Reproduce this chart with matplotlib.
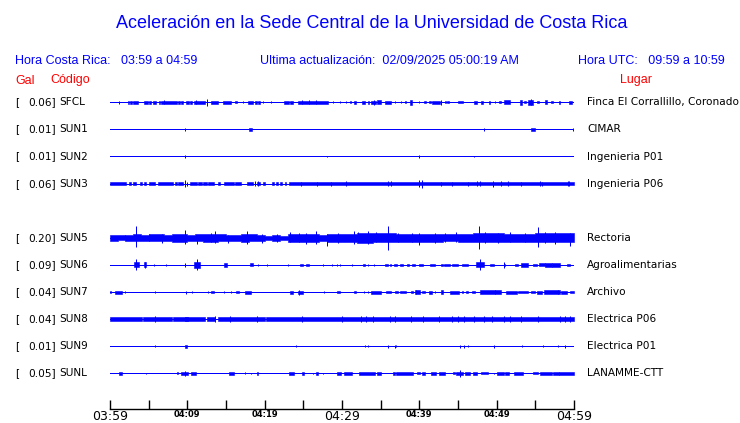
import matplotlib
matplotlib.use("Agg")
import matplotlib.pyplot as plt
from matplotlib.transforms import blended_transform_factory


W, H = 740, 423
BLUE = "#0000ff"
RED = "#ff0000"
LW = 0.72  # one pixel at 100 dpi

# station order top -> bottom (None = empty slot, SUN4 not shown)
ROW_ORDER = ["SFCL", "SUN1", "SUN2", "SUN3", None, "SUN5", "SUN6", "SUN7", "SUN8", "SUN9", "SUNL"]

PEAK_GAL = {
	"SFCL": "0.06", "SUN1": "0.01", "SUN2": "0.01", "SUN3": "0.06", "SUN5": "0.20",
	"SUN6": "0.09", "SUN7": "0.04", "SUN8": "0.04", "SUN9": "0.01", "SUNL": "0.05",
}
PLACES = {
	"SFCL": "Finca El Corrallillo, Coronado", "SUN1": "CIMAR", "SUN2": "Ingenieria P01",
	"SUN3": "Ingenieria P06", "SUN5": "Rectoria", "SUN6": "Agroalimentarias",
	"SUN7": "Archivo", "SUN8": "Electrica P06", "SUN9": "Electrica P01", "SUNL": "LANAMME-CTT",
}

TICK_MIN = [0, 5, 10, 15, 20, 25, 30, 35, 40, 45, 50, 55, 60]
TICK_LABELS = ["03:59", "", "04:09", "", "04:19", "", "04:29", "", "04:39", "", "04:49", "", "04:59"]
BIG_TICKS = ["03:59", "04:29", "04:59"]

# bursts: (start_min, end_min, half amplitude); start == end -> single spike
SFCL_EVENTS = [
	(1.2, 1.2, 1.3), (2.3, 2.5, 1.3), (2.6, 2.8, 1.5), (3.0, 3.6, 1.5), (4.4, 4.9, 1.5), (5.1, 5.3, 1.3),
	(5.6, 5.9, 1.3), (6.3, 6.5, 1.3), (6.6, 8.6, 1.5), (7.0, 7.0, 2.2), (8.8, 9.0, 1.3), (9.2, 9.4, 1.3),
	(9.8, 10.2, 1.5), (10.4, 10.6, 1.3), (10.8, 12.3, 1.5), (11.1, 11.1, 2.2), (12.6, 12.6, 3.5),
	(13.1, 14.0, 1.5), (14.6, 15.7, 1.5), (16.1, 16.4, 1.0), (17.2, 17.2, 1.0), (17.8, 18.5, 1.5),
	(18.7, 19.0, 1.3), (19.2, 19.4, 1.3), (19.8, 19.8, 1.0), (20.8, 20.8, 1.0), (22.5, 23.1, 1.5),
	(23.3, 23.7, 1.5), (24.3, 28.2, 1.5), (24.8, 24.8, 2.2), (25.7, 25.7, 2.2), (26.6, 26.6, 2.2),
	(28.8, 28.8, 1.0), (29.8, 29.8, 1.0), (30.5, 30.5, 1.0), (31.0, 31.2, 1.2), (31.5, 31.8, 1.3),
	(32.6, 33.0, 1.3), (33.3, 33.5, 1.3), (33.8, 34.4, 1.5), (34.1, 34.1, 2.5), (34.5, 35.0, 2.0),
	(35.6, 36.3, 1.5), (36.8, 36.8, 1.0), (37.6, 37.6, 1.0), (38.1, 38.3, 1.0), (38.8, 39.1, 2.3),
	(39.9, 39.9, 1.0), (40.6, 40.8, 1.0), (41.2, 41.5, 1.2), (41.7, 42.7, 1.5), (42.8, 42.8, 2.5),
	(43.3, 43.5, 1.0), (43.6, 43.9, 1.0), (45.0, 45.6, 0.8), (47.1, 47.5, 1.5), (48.0, 48.2, 1.3),
	(49.0, 49.2, 1.3), (49.8, 49.8, 1.0), (50.3, 50.6, 1.0), (51.0, 51.7, 2.0), (53.0, 53.3, 2.3),
	(53.5, 53.8, 1.0), (54.0, 54.7, 2.3), (54.5, 54.5, 3.0), (55.2, 55.5, 1.0), (56.3, 56.5, 2.0),
	(57.0, 57.3, 1.0), (58.0, 58.2, 1.3), (59.4, 59.8, 1.5),
]
SUN1_EVENTS = [(9.7, 9.7, 1.3), (18.0, 18.3, 1.5), (48.3, 48.3, 1.3), (54.4, 54.9, 1.5), (59.9, 59.9, 1.3)]
SUN2_EVENTS = [(9.7, 9.7, 1.3), (28.0, 28.0, 0.8), (40.0, 40.0, 1.3), (47.1, 47.1, 0.8)]
SUN3_EVENTS = [
	(0.0, 2.1, 1.5), (2.4, 2.7, 1.5), (3.0, 3.4, 1.5), (3.9, 4.2, 1.5), (4.4, 4.7, 1.5), (5.1, 5.8, 1.5),
	(6.2, 8.2, 1.5), (8.4, 8.6, 1.5), (8.8, 9.5, 1.5), (10.3, 11.2, 1.5), (11.4, 11.9, 1.5), (12.0, 12.5, 1.5),
	(12.7, 13.5, 1.5), (14.0, 14.2, 1.5), (14.7, 16.0, 1.5), (16.2, 17.0, 1.5), (17.7, 18.5, 1.5),
	(19.0, 19.4, 1.5), (19.8, 20.0, 1.5), (21.0, 21.2, 1.5), (21.5, 21.7, 1.5), (22.0, 22.3, 1.5),
	(22.6, 22.8, 1.5), (23.2, 60.0, 1.5),
	(9.7, 9.7, 3.3), (10.0, 10.0, 2.0), (18.7, 18.7, 2.7), (19.1, 19.1, 2.2), (24.7, 24.7, 2.0),
	(26.8, 26.8, 2.0), (28.6, 28.6, 2.0), (30.5, 30.5, 2.5), (36.0, 36.0, 2.2), (36.3, 36.3, 2.2),
	(40.0, 40.0, 3.5), (40.4, 40.4, 4.0), (42.8, 42.8, 2.0), (44.2, 44.2, 2.0), (46.3, 46.3, 2.0),
	(47.5, 47.5, 2.2), (47.9, 47.9, 2.7), (49.5, 49.5, 3.0), (50.6, 50.6, 2.2), (51.5, 51.5, 2.2),
	(53.2, 53.2, 2.0), (55.6, 55.6, 2.2), (55.8, 55.8, 2.0), (59.2, 59.2, 2.7), (59.4, 59.4, 2.5),
]
# SUN5 is continuous: one core half amplitude per minute plus the larger excursions (t, up, down)
SUN5_CORE = [
	3.0, 2.5, 2.8, 3.5, 2.8, 3.5, 3.5, 3.0, 3.8, 4.0, 3.3, 3.5, 3.8, 4.0, 3.5, 3.0, 2.7, 4.0, 3.5, 3.3,
	2.3, 3.3, 2.0, 4.0, 4.0, 4.0, 4.0, 3.3, 3.8, 4.0, 4.0, 4.3, 4.8, 4.8, 4.5, 4.5, 4.5, 4.2, 4.2, 4.2,
	4.2, 4.2, 3.8, 3.5, 3.5, 4.2, 4.2, 4.5, 4.5, 4.5, 4.5, 4.2, 3.8, 3.8, 4.2, 4.5, 4.5, 4.5, 4.5, 4.5,
]
SUN5_SPIKES = [
	(1.9, 3.3, 2.5), (3.3, 12.0, 9.0), (5.0, 4.0, 3.0), (6.7, 4.0, 5.0), (9.7, 8.0, 6.0), (11.2, 3.0, 6.0),
	(13.1, 5.0, 4.0), (13.6, 6.7, 5.0), (15.3, 3.0, 5.0), (17.7, 6.7, 6.0), (19.6, 4.0, 5.0),
	(21.6, 4.0, 4.0), (23.3, 5.7, 4.0), (24.4, 5.0, 4.0), (25.4, 5.0, 6.0), (26.6, 6.7, 6.0),
	(28.0, 4.0, 8.3), (29.5, 5.0, 5.0), (31.5, 6.7, 5.7), (32.1, 5.7, 4.5), (33.4, 6.7, 5.7),
	(34.4, 5.7, 4.5), (36.0, 12.3, 11.7), (37.3, 5.0, 4.5), (39.0, 5.0, 4.5), (39.9, 4.5, 7.3),
	(42.0, 5.0, 5.0), (43.3, 5.0, 4.0), (44.8, 5.7, 4.5), (47.7, 11.7, 11.0), (48.5, 6.0, 5.0),
	(50.2, 5.0, 5.0), (51.7, 5.7, 4.5), (53.7, 5.0, 4.5), (55.3, 11.0, 9.3), (56.3, 5.7, 5.0),
	(57.5, 6.0, 6.0), (59.5, 5.0, 8.3),
]
SUN6_EVENTS = [
	(3.1, 3.7, 2.5), (3.4, 3.4, 5.5), (4.4, 4.6, 2.5), (4.5, 4.5, 3.0), (5.7, 5.7, 0.8), (7.2, 7.2, 0.8),
	(9.7, 9.7, 2.0), (10.9, 11.6, 3.0), (11.25, 11.25, 5.5), (14.7, 15.1, 1.7), (18.1, 18.5, 1.5),
	(19.1, 19.1, 1.0), (20.3, 20.3, 1.3), (23.0, 23.0, 1.3), (24.6, 24.9, 1.3), (25.3, 25.7, 1.0),
	(27.6, 27.6, 0.8), (28.7, 28.7, 1.3), (29.3, 29.3, 0.8), (29.8, 29.8, 0.8), (31.3, 31.3, 1.3),
	(32.7, 33.0, 1.3), (33.4, 33.4, 1.0), (34.2, 34.2, 1.0), (35.6, 35.9, 1.0), (36.2, 36.4, 1.3),
	(36.7, 37.1, 1.3), (37.5, 37.9, 1.3), (38.4, 38.7, 1.0), (39.0, 39.4, 1.3), (39.9, 40.5, 1.3),
	(41.4, 42.0, 1.0), (42.8, 43.0, 1.3), (43.2, 44.0, 1.3), (44.2, 45.0, 1.3), (45.5, 46.3, 1.3),
	(47.3, 48.3, 2.5), (47.8, 47.8, 5.5), (49.1, 49.7, 1.3), (50.9, 51.1, 1.3), (51.0, 51.0, 3.0),
	(52.4, 52.8, 1.3), (53.2, 54.1, 1.7), (54.7, 55.2, 1.0), (55.5, 56.2, 1.5), (56.3, 57.1, 1.7),
	(57.2, 58.2, 2.0), (59.1, 59.5, 1.0),
]
SUN7_EVENTS = [
	(0.0, 0.1, 1.3), (0.6, 1.5, 1.5), (2.0, 2.0, 0.8), (5.8, 5.8, 1.3), (9.8, 9.8, 1.5), (10.6, 10.6, 1.3),
	(12.7, 12.7, 1.0), (13.1, 13.5, 0.8), (14.8, 14.8, 0.7), (15.7, 15.7, 1.3), (16.3, 16.7, 1.3),
	(17.5, 18.2, 1.5), (23.3, 23.7, 1.5), (24.3, 24.9, 1.5), (24.4, 24.4, 2.5), (27.7, 27.7, 0.8),
	(29.4, 29.7, 0.7), (31.5, 31.8, 1.3), (32.9, 32.9, 0.8), (33.4, 33.4, 0.8), (33.8, 35.1, 1.5),
	(35.7, 36.4, 1.3), (36.9, 37.3, 1.3), (37.5, 38.3, 1.3), (38.9, 39.2, 1.0), (39.4, 40.1, 1.7),
	(39.6, 39.6, 2.2), (40.3, 40.7, 1.3), (41.2, 41.6, 1.5), (42.0, 42.0, 0.8), (42.8, 43.1, 1.7),
	(44.0, 45.1, 1.5), (45.5, 45.7, 1.0), (46.0, 46.3, 1.0), (46.8, 47.2, 1.0), (47.9, 50.6, 1.7),
	(49.8, 49.8, 2.3), (51.2, 52.6, 1.5), (52.8, 54.1, 1.3), (54.4, 55.0, 1.3), (55.2, 55.8, 1.5),
	(56.1, 58.2, 1.7), (57.9, 57.9, 2.3), (58.3, 59.1, 1.5), (59.5, 60.0, 1.3),
]
SUN8_EVENTS = [
	(0.0, 4.2, 1.7), (4.3, 8.0, 1.7), (8.2, 12.3, 1.7), (12.5, 13.6, 1.7), (14.0, 20.0, 1.7), (20.2, 60.0, 1.7),
	(5.8, 5.8, 3.0), (9.7, 10.1, 2.3), (13.6, 13.6, 3.0), (15.5, 15.5, 3.0), (19.0, 19.0, 3.0),
	(24.8, 24.8, 3.0), (30.0, 30.0, 3.0), (32.5, 32.5, 2.7), (33.1, 33.1, 2.7), (34.0, 34.0, 2.7),
	(36.2, 36.2, 2.7), (36.9, 36.9, 2.7), (38.9, 38.9, 3.0), (40.5, 40.5, 2.7), (42.5, 42.5, 2.7),
	(44.2, 44.2, 2.7), (45.0, 45.0, 2.7), (45.8, 45.8, 2.7), (47.1, 47.1, 3.0), (48.3, 48.3, 2.7),
	(49.4, 49.4, 2.7), (50.9, 50.9, 2.7), (51.7, 51.7, 2.7), (53.2, 53.2, 3.0), (55.4, 55.4, 2.7),
	(58.2, 58.2, 2.7), (58.8, 58.8, 2.7), (59.5, 59.5, 2.7),
]
SUN9_EVENTS = [
	(5.8, 5.8, 0.8), (9.7, 9.9, 1.3), (24.1, 24.1, 1.0), (33.0, 33.0, 1.0), (33.4, 33.4, 1.0),
	(36.0, 36.0, 1.3), (36.8, 36.8, 1.3), (37.0, 37.0, 1.0), (45.2, 45.2, 1.3), (45.8, 45.8, 1.3),
	(46.3, 46.3, 1.0), (49.7, 49.7, 1.3), (53.3, 53.3, 0.8), (56.0, 56.0, 1.0), (57.9, 57.9, 0.8),
	(58.9, 58.9, 1.3),
]
SUNL_EVENTS = [
	(1.2, 1.5, 1.5), (4.6, 4.6, 0.7), (8.6, 8.8, 1.0), (9.2, 10.1, 1.7), (9.7, 9.7, 2.3), (10.5, 11.1, 1.7),
	(15.4, 16.0, 1.3), (17.5, 17.5, 1.0), (18.2, 18.2, 0.7), (19.0, 19.2, 1.5), (23.1, 23.8, 1.3),
	(24.8, 25.1, 1.3), (26.3, 26.3, 0.7), (26.7, 26.9, 1.3), (27.5, 27.5, 0.8), (29.4, 29.9, 1.3),
	(30.3, 31.3, 1.3), (32.2, 34.3, 1.3), (34.5, 35.0, 1.3), (36.6, 36.9, 1.3), (37.0, 39.2, 1.3),
	(39.7, 40.1, 1.0), (40.3, 40.7, 1.3), (41.5, 42.1, 1.3), (42.6, 43.3, 1.3), (44.4, 44.6, 1.0),
	(44.8, 45.7, 1.7), (45.3, 45.3, 3.3), (45.9, 46.6, 1.3), (47.0, 47.4, 1.3), (48.0, 48.9, 1.0),
	(49.7, 49.7, 0.8), (50.0, 50.9, 1.3), (51.1, 51.6, 1.3), (52.2, 53.4, 1.3), (54.7, 55.4, 1.0),
	(55.6, 57.1, 1.3), (57.3, 58.0, 1.3), (58.1, 60.0, 1.7),
]

EVENTS = {
	"SFCL": SFCL_EVENTS, "SUN1": SUN1_EVENTS, "SUN2": SUN2_EVENTS, "SUN3": SUN3_EVENTS,
	"SUN6": SUN6_EVENTS, "SUN7": SUN7_EVENTS, "SUN8": SUN8_EVENTS, "SUN9": SUN9_EVENTS, "SUNL": SUNL_EVENTS,
}


def px_box(x0, y_top, w, h):
	return [x0 / W, 1 - (y_top + h) / H, w / W, h / H]


def draw_events(ax, row, events, k):
	for t0, t1, a in events:
		if t1 <= t0:
			ax.vlines(t0, row - a * k, row + a * k, color=BLUE, lw=LW)
		else:
			ax.fill_between([t0, t1], row - a * k, row + a * k, color=BLUE, lw=0.4, edgecolor=BLUE)


def main():
	fig = plt.figure(figsize=(W / 100, H / 100), dpi=100)
	fig.patch.set_facecolor("white")

	row_px = 27.1
	top_row_px = 102.3
	n_rows = len(ROW_ORDER)
	ax = fig.add_axes(px_box(110, top_row_px - row_px / 2, 464, row_px * n_rows))
	ax.set_xlim(0, 60)
	ax.set_ylim(n_rows - 0.5, -0.5)
	ax.set_axis_off()
	k = 1 / row_px  # amplitude units are screen pixels of the original plot

	tr = blended_transform_factory(fig.transFigure, ax.transData)
	lab_font = dict(family="DejaVu Sans", fontsize=7.6, color="black", va="center")

	for row, code in enumerate(ROW_ORDER):
		if code is None:
			continue
		ax.hlines(row, 0, 60, color=BLUE, lw=LW, antialiased=False)
		if code == "SUN5":
			edges = list(range(61))
			core = SUN5_CORE + [SUN5_CORE[-1]]
			ax.fill_between(edges, [row - c * k for c in core], [row + c * k for c in core],
							step="post", color=BLUE, lw=0.4, edgecolor=BLUE)
			for t, up, down in SUN5_SPIKES:
				ax.vlines(t, row - up * k, row + down * k, color=BLUE, lw=LW)
		else:
			draw_events(ax, row, EVENTS[code], k)

		fig.text(15 / W, row, "[", transform=tr, ha="left", **lab_font)
		fig.text(56 / W, row, f"{PEAK_GAL[code]}]", transform=tr, ha="right", **lab_font)
		fig.text(59 / W, row, code, transform=tr, ha="left", **lab_font)
		fig.text(587 / W, row, PLACES[code], transform=tr, ha="left", **lab_font)

	# time axis
	axt = fig.add_axes(px_box(110, 399, 464, 10))
	axt.set_xlim(0, 60)
	axt.set_ylim(0, 1)
	axt.patch.set_alpha(0)
	for side in ["top", "left", "right"]:
		axt.spines[side].set_visible(False)
	axt.spines["bottom"].set_linewidth(1.0)
	axt.set_yticks([])
	axt.set_xticks(TICK_MIN)
	axt.set_xticklabels(TICK_LABELS)
	axt.tick_params(axis="x", direction="in", length=6.8, width=1.0, pad=1)
	for lbl in axt.get_xticklabels():
		if lbl.get_text() in BIG_TICKS:
			lbl.set_fontsize(9)
		else:
			lbl.set_fontsize(6)
			lbl.set_fontweight("bold")
		lbl.set_family("DejaVu Sans")

	hdr = dict(family="Liberation Sans", color=BLUE, va="center")
	fig.text(372 / W, 1 - 23 / H, "Aceleración en la Sede Central de la Universidad de Costa Rica",
			 ha="center", fontsize=13, **hdr)
	fig.text(15 / W, 1 - 60.5 / H, "Hora Costa Rica:   03:59 a 04:59", ha="left", fontsize=9, **hdr)
	fig.text(260 / W, 1 - 60.5 / H, "Ultima actualización:  02/09/2025 05:00:19 AM", ha="left", fontsize=9, **hdr)
	fig.text(725 / W, 1 - 60.5 / H, "Hora UTC:   09:59 a 10:59", ha="right", fontsize=9, **hdr)

	red = dict(family="Liberation Sans", color=RED, va="center", fontsize=9)
	fig.text(15 / W, 1 - 80.5 / H, "Gal", ha="left", **red)
	fig.text(50 / W, 1 - 80.5 / H, "Código", ha="left", **red)
	fig.text(620 / W, 1 - 80.5 / H, "Lugar", ha="left", **red)

	fig.savefig("out.png", dpi=100, facecolor="white")
	plt.close(fig)


if __name__ == "__main__":
	main()
